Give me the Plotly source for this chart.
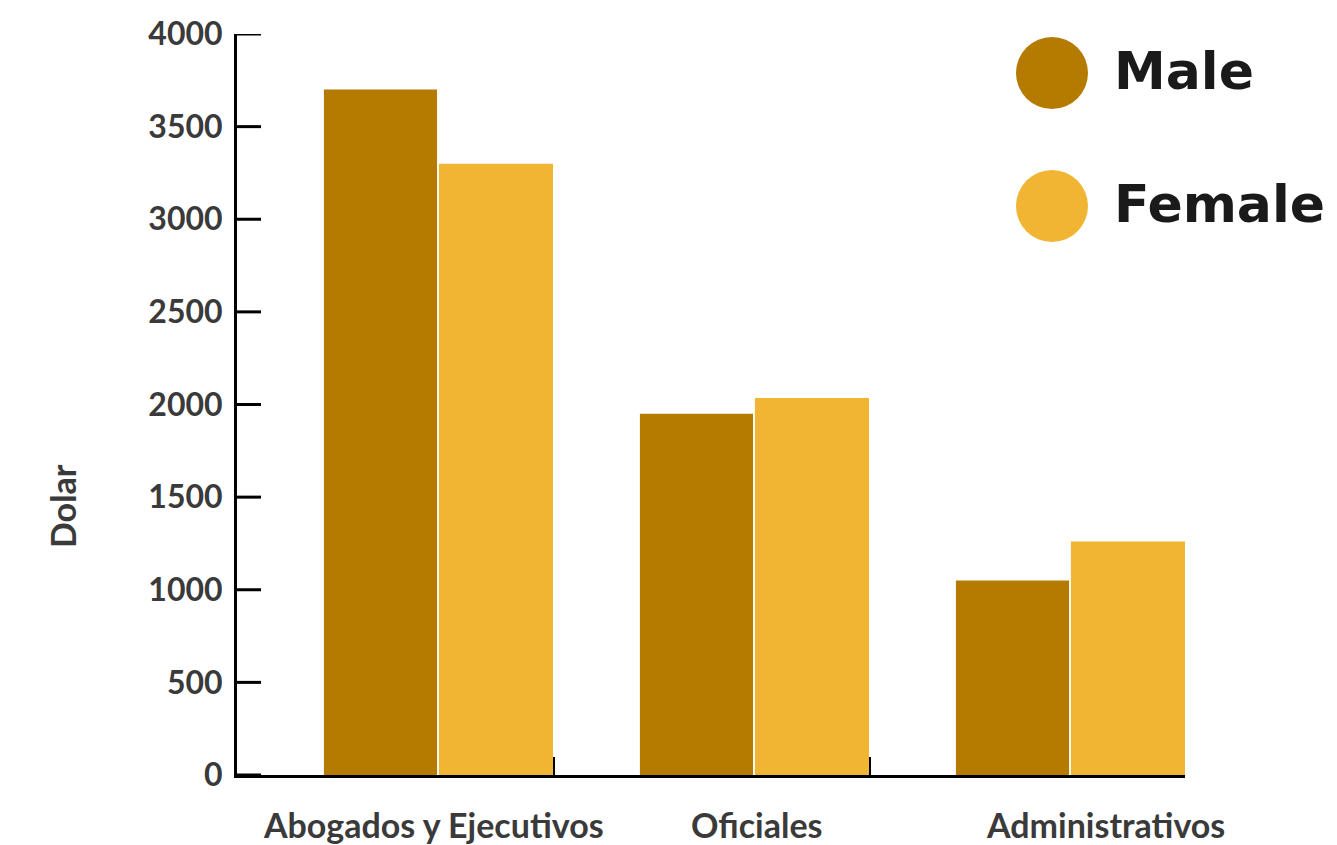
import plotly.graph_objects as go

categories = ["Abogados y Ejecutivos", "Oficiales", "Administrativos"]
male = [3700, 1950, 1050]
female = [3300, 2035, 1260]
series_names = ["Male", "Female"]
y_ticks = [0, 500, 1000, 1500, 2000, 2500, 3000, 3500, 4000]

# positions / styles
cat_idx = list(range(len(categories)))
label_pos = [0.123, 1.146, 2.247]
boundaries = [-0.5, 0.5, 1.5, 2.5]
MALE_C = "#B57A00"
FEMALE_C = "#F1B534"
TXT = "#3a3a3a"
FONT = "Lato"
PLOT_W = 1337 - 237 - 152
YTICK_LEN = 24 * (boundaries[-1] - boundaries[0]) / PLOT_W  # 24 px in x units

fig = go.Figure()
fig.add_trace(go.Bar(x=cat_idx, y=male, name=series_names[0], marker=dict(color=MALE_C, line_width=0),
                     offset=-0.225, width=0.358, showlegend=False))
fig.add_trace(go.Bar(x=cat_idx, y=female, name=series_names[1], marker=dict(color=FEMALE_C, line_width=0),
                     offset=0.139, width=0.361, showlegend=False))

# inward y tick marks drawn as short line segments at each y tick value
tx, ty = [], []
for v in y_ticks:
    tx += [boundaries[0], boundaries[0] + YTICK_LEN, None]
    ty += [v, v, None]
fig.add_trace(go.Scatter(x=tx, y=ty, mode="lines", line=dict(color="black", width=3),
                         showlegend=False, hoverinfo="skip", cliponaxis=False))

fig.update_layout(
    width=1337, height=845,
    margin=dict(l=237, r=152, t=34, b=70),
    paper_bgcolor="white", plot_bgcolor="white",
    barmode="overlay",
    xaxis=dict(range=[-0.5, 2.5], showline=True, linecolor="black", linewidth=3,
               ticks="inside", tickvals=boundaries, ticklen=18, tickwidth=3, tickcolor="black",
               showticklabels=False, showgrid=False, zeroline=False, layer="below traces"),
    yaxis=dict(range=[0, 4000], tickmode="array", tickvals=y_ticks, showline=True,
               linecolor="black", linewidth=3, ticks="",
               showgrid=False, zeroline=False,
               tickfont=dict(family=FONT, size=32, color=TXT, weight="bold"),
               ticklabelstandoff=5),
    showlegend=False,
)

# category labels
for cat, xp in zip(categories, label_pos):
    fig.add_annotation(text=cat, xref="x", yref="paper", x=xp, y=0, yanchor="top", xanchor="center",
                       yshift=-27, showarrow=False,
                       font=dict(family=FONT, size=34, color=TXT, weight="bold"))

# custom legend
leg = [(series_names[0], MALE_C, 0.9474, 0.9494), (series_names[1], FEMALE_C, 0.7679, 0.7706)]
for name, col, yc, yt in leg:
    fig.add_shape(type="circle", xref="paper", yref="paper", xsizemode="pixel", ysizemode="pixel",
                  xanchor=0.8597, yanchor=yc, x0=-36, x1=36, y0=-36, y1=36,
                  fillcolor=col, line=dict(width=0))
    fig.add_annotation(text=name, xref="paper", yref="paper", x=0.9225, y=yt,
                       xanchor="left", yanchor="middle", showarrow=False,
                       font=dict(family="DejaVu Sans", size=52, color="#1a1a1a", weight="bold"))

fig.add_annotation(text="Dolar", xref="paper", yref="paper", x=-0.1846, y=0.363,
                   textangle=-90, showarrow=False, xanchor="center", yanchor="middle",
                   font=dict(family=FONT, size=34, color=TXT, weight="bold"))

fig.write_html("out.html")
